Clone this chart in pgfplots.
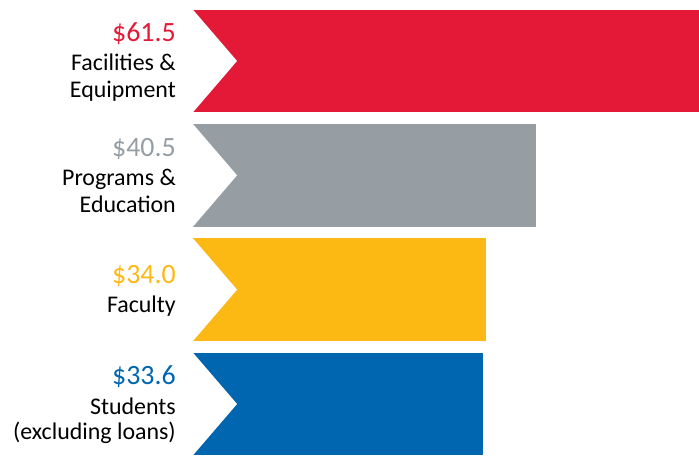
\documentclass[border=0pt]{standalone}
\usepackage{pgfplots}
\pgfplotsset{compat=1.18}
\usepackage{fontspec}
\setmainfont{Carlito}

\definecolor{cRed}{HTML}{E31937}
\definecolor{cGray}{HTML}{969EA4}
\definecolor{cYellow}{HTML}{FDB913}
\definecolor{cBlue}{HTML}{0066B0}

% left edge of the chevrons, notch tip, half bar height (axis units)
\def\xl{-3.88}
\def\xt{1.81}
\def\hb{0.4483}

\newcommand{\valfont}{\fontsize{28}{30}\selectfont}
\newcommand{\catfont}{\fontsize{24}{27}\selectfont}

\begin{document}
\begin{tikzpicture}
\begin{axis}[
    scale only axis,
    width=506bp, height=455bp,
    xmin=-3.88, xmax=61.5,
    ymin=-0.5335, ymax=3.4461,
    y dir=reverse,
    axis lines=none,
    xtick=\empty, ytick=\empty,
    xbar, bar shift=0pt, bar width=102.5bp,
    clip=false,
]
\addplot[fill=cRed, draw=none] coordinates {(61.5,0)};
\addplot[fill=cGray, draw=none] coordinates {(40.5,1)};
\addplot[fill=cYellow, draw=none] coordinates {(34.0,2)};
\addplot[fill=cBlue, draw=none] coordinates {(33.6,3)};

% chevron tails
\fill[cRed] (axis cs:\xl,-\hb) rectangle (axis cs:0.3,\hb);
\fill[cGray] (axis cs:\xl,1-\hb) rectangle (axis cs:0.3,1+\hb);
\fill[cYellow] (axis cs:\xl,2-\hb) rectangle (axis cs:0.3,2+\hb);
\fill[cBlue] (axis cs:\xl,3-\hb) rectangle (axis cs:0.3,3+\hb);
\fill[white] (axis cs:\xl,-\hb) -- (axis cs:\xt,0) -- (axis cs:\xl,\hb) -- cycle;
\fill[white] (axis cs:\xl,1-\hb) -- (axis cs:\xt,1) -- (axis cs:\xl,1+\hb) -- cycle;
\fill[white] (axis cs:\xl,2-\hb) -- (axis cs:\xt,2) -- (axis cs:\xl,2+\hb) -- cycle;
\fill[white] (axis cs:\xl,3-\hb) -- (axis cs:\xt,3) -- (axis cs:\xl,3+\hb) -- cycle;

% labels
\begin{scope}[every node/.style={anchor=base east, inner sep=0pt, xshift=-17bp}]
\node[text=cRed, yshift=19bp] at (axis cs:\xl,0) {\valfont \$61.5};
\node[yshift=-10bp] at (axis cs:\xl,0) {\catfont Facilities \&};
\node[yshift=-37bp] at (axis cs:\xl,0) {\catfont Equipment};
\node[text=cGray, yshift=19bp] at (axis cs:\xl,1) {\valfont \$40.5};
\node[yshift=-10bp] at (axis cs:\xl,1) {\catfont Programs \&};
\node[yshift=-37bp] at (axis cs:\xl,1) {\catfont Education};
\node[text=cYellow, yshift=6bp] at (axis cs:\xl,2) {\valfont \$34.0};
\node[yshift=-23bp] at (axis cs:\xl,2) {\catfont Faculty};
\node[text=cBlue, yshift=19bp] at (axis cs:\xl,3) {\valfont \$33.6};
\node[yshift=-10bp] at (axis cs:\xl,3) {\catfont Students};
\node[yshift=-36bp] at (axis cs:\xl,3) {\catfont (excluding loans)};
\end{scope}
\coordinate (bl) at (rel axis cs:0,1);
\coordinate (tr) at (rel axis cs:1,0);
\end{axis}
\useasboundingbox ([xshift=-193bp]bl) rectangle (tr);
\end{tikzpicture}
\end{document}
